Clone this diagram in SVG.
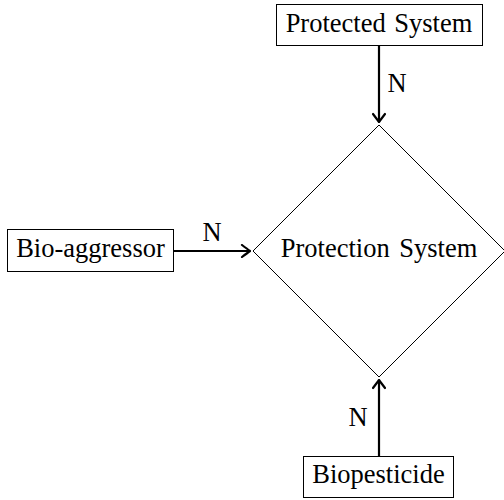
<svg xmlns="http://www.w3.org/2000/svg" width="504" height="500" viewBox="0 0 504 500">
<defs>
<style>
text{font-family:"Liberation Serif","Times New Roman",serif;font-size:26.5px;fill:#000;text-anchor:middle}
.box{fill:#fff;stroke:#000;stroke-width:1}
.edge{stroke:#000;stroke-width:2.2;fill:none}
</style>
<marker id="arr" viewBox="-10 -7 11 14" refX="0" refY="0" markerWidth="11" markerHeight="14" markerUnits="userSpaceOnUse" orient="auto">
<path d="M-8,-6 Q-2.5,-1.8 0,0 Q-2.5,1.8 -8,6" fill="none" stroke="#000" stroke-width="2.2" stroke-linecap="round" stroke-linejoin="round"/>
</marker>
</defs>
<rect width="504" height="500" fill="#fff"/>
<g id="connectors">
<line class="edge" x1="379" y1="45" x2="379" y2="122" marker-end="url(#arr)"/>
<line class="edge" x1="174" y1="251" x2="250" y2="251" marker-end="url(#arr)"/>
<line class="edge" x1="379" y1="456" x2="379" y2="380" marker-end="url(#arr)"/>
<text x="397" y="92">N</text>
<text x="212" y="241">N</text>
<text x="358" y="426">N</text>
</g>
<g id="protection-system">
<polygon class="box" points="379,125 505,251 379,377 253,251"/>
<text x="379" y="257" word-spacing="3">Protection System</text>
</g>
<g id="protected-system">
<rect class="box" x="276.5" y="4.5" width="206" height="41"/>
<text x="379" y="32" word-spacing="2">Protected System</text>
</g>
<g id="bio-aggressor">
<rect class="box" x="7.5" y="229.5" width="166" height="42"/>
<text x="90.5" y="257">Bio-aggressor</text>
</g>
<g id="biopesticide">
<rect class="box" x="303.5" y="456.5" width="150" height="41"/>
<text x="378.5" y="483">Biopesticide</text>
</g>
</svg>
